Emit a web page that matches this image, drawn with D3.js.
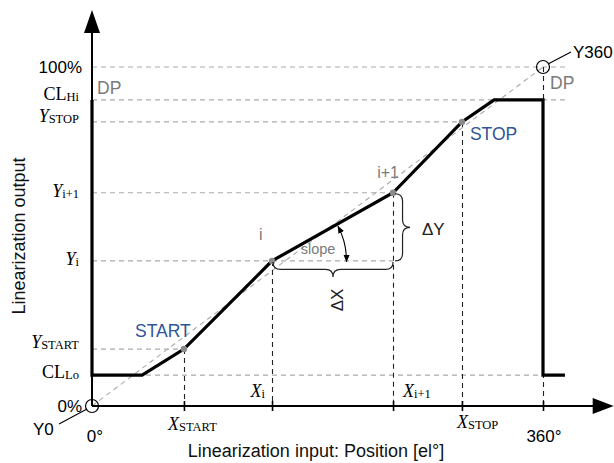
<!DOCTYPE html>
<html><head><meta charset="utf-8">
<script src="https://cdn.jsdelivr.net/npm/d3@7"></script>
<style>
body{margin:0;background:#fff;}
svg{display:block;}
.sans{font-family:"Liberation Sans",Arial,sans-serif;}
.serif{font-family:"Liberation Serif","Times New Roman",serif;}
</style></head>
<body>
<svg id="chart" width="614" height="463"></svg>
<script>
// ---- data ----
const yTickValues = [100, 90.3, 83.8, 62.9, 42.8, 16.8, 9.1, 0];
const yTickMain   = ["100%", "CL", "Y", "Y", "Y", "Y", "CL", "0%"];
const yTickSub    = ["", "Hi", "STOP", "i+1", "i", "START", "Lo", ""];

const xTickValues = [0, 73.4, 143.7, 240.3, 295.3, 360];
const xTickMain   = ["0°", "X", "X", "X", "X", "360°"];
const xTickSub    = ["", "START", "i", "i+1", "STOP", ""];

const curveX = [0, 0, 40, 73.4, 143.7, 240.3, 295.3, 321, 360, 360, 377.5];
const curveY = [90.3, 9.1, 9.1, 16.8, 42.8, 62.9, 83.8, 90.3, 90.3, 9.1, 9.1];

const pointX = [73.4, 143.7, 240.3, 295.3];
const pointY = [16.8, 42.8, 62.9, 83.8];
const pointLabel = ["START", "i", "i+1", "STOP"];

const xTitle = "Linearization input: Position [el°]";
const yTitle = "Linearization output";

// ---- scales ----
const x = d3.scaleLinear().domain([0, 360]).range([92, 543]);
const y = d3.scaleLinear().domain([0, 100]).range([406, 67]);
const xMax = 416.4, yMax = 116.8;

const svg = d3.select("#chart");
const GRAY = "#ababab", DKDASH = "#222", BLUE = "#2f5597", LGRAY = "#7a7a7a";

// markers
const defs = svg.append("defs");
defs.append("marker").attr("id","arr").attr("viewBox","0 0 10 10").attr("refX",9).attr("refY",5)
  .attr("markerWidth",7).attr("markerHeight",7).attr("orient","auto-start-reverse")
  .append("path").attr("d","M0,1 L10,5 L0,9 Z").attr("fill","#000");

// ---- horizontal gray dashed guide lines ----
const hEnds = [380.5, 380.5, pointX[3], pointX[2], pointX[2], pointX[0], 360, 0];
yTickValues.forEach((v,i)=>{
  if (v === 0) return;
  svg.append("line").attr("x1",x(0)).attr("x2",x(hEnds[i])).attr("y1",y(v)).attr("y2",y(v))
    .attr("stroke",GRAY).attr("stroke-width",1.2).attr("stroke-dasharray","5,4");
});
// diagonal
svg.append("line").attr("x1",x(0)).attr("y1",y(0)).attr("x2",x(360)).attr("y2",y(100))
  .attr("stroke",GRAY).attr("stroke-width",1.1).attr("stroke-dasharray","5,4");

// ---- vertical dark dashed lines ----
const vTops = [16.8, 42.8, 62.9, 83.8, 100];
xTickValues.slice(1).forEach((v,i)=>{
  const xx = Math.round(x(v)) + 0.5;
  svg.append("line").attr("x1",xx).attr("x2",xx).attr("y1",y(vTops[i])).attr("y2",y(0))
    .attr("stroke",DKDASH).attr("stroke-width",1.1).attr("stroke-dasharray","5,4");
});

// ---- axes ----
svg.append("line").attr("x1",x(0)).attr("x2",x(xMax)-20).attr("y1",y(0)).attr("y2",y(0))
  .attr("stroke","#000").attr("stroke-width",2);
svg.append("path").attr("d",`M${x(xMax)},${y(0)} L${x(xMax)-21},${y(0)-8} L${x(xMax)-21},${y(0)+8} Z`).attr("fill","#000");
svg.append("line").attr("x1",x(0)).attr("x2",x(0)).attr("y1",y(0)).attr("y2",y(yMax)+20)
  .attr("stroke","#000").attr("stroke-width",2);
svg.append("path").attr("d",`M${x(0)},${y(yMax)} L${x(0)-8},${y(yMax)+23} L${x(0)+8},${y(yMax)+23} Z`).attr("fill","#000");

const xAxis = d3.axisBottom(x).tickValues(xTickValues.slice(1)).tickFormat("").tickSize(10);
svg.append("g").attr("transform",`translate(0,${y(0)-5})`).call(xAxis)
  .call(g=>g.select(".domain").remove())
  .call(g=>g.selectAll(".tick line").attr("stroke","#000").attr("stroke-width",1.6));

// ---- curve ----
const line = d3.line().x((d,i)=>x(curveX[i])).y((d,i)=>y(curveY[i]));
svg.append("path").datum(curveX).attr("d",line).attr("fill","none")
  .attr("stroke","#000").attr("stroke-width",3.2).attr("stroke-linejoin","miter");

// points
svg.selectAll(".pt").data(pointX).enter().append("circle")
  .attr("cx",(d)=>x(d)).attr("cy",(d,i)=>y(pointY[i])).attr("r",3.2).attr("fill","#8a8a8a");

// hollow circles
[[0,0],[360,100]].forEach(p=>{
  svg.append("circle").attr("cx",x(p[0])).attr("cy",y(p[1])).attr("r",6.5)
    .attr("fill","none").attr("stroke","#000").attr("stroke-width",1.2);
});
svg.append("line").attr("x1",59).attr("y1",424).attr("x2",x(0)-5).attr("y2",y(0)+3).attr("stroke","#000").attr("stroke-width",1.1);
svg.append("line").attr("x1",x(360)+5).attr("y1",y(100)-3).attr("x2",571).attr("y2",52).attr("stroke","#000").attr("stroke-width",1.1);
svg.append("text").attr("class","sans").attr("x",33).attr("y",435).attr("font-size",17).text("Y0");
svg.append("text").attr("class","sans").attr("x",573).attr("y",58).attr("font-size",17).text("Y360");

// ---- y tick labels ----
const yBase = [6, 0, 0, 4, 4, -1, 3, 6];
yTickValues.forEach((v,i)=>{
  const isSans = yTickSub[i] === "";
  const t = svg.append("text").attr("class", isSans ? "sans" : "serif")
    .attr("x", isSans ? 82 : 79).attr("y", y(v) + yBase[i])
    .attr("text-anchor","end").attr("font-size", 17);
  t.append("tspan").attr("font-style", yTickMain[i]==="Y" ? "italic" : "normal").attr("font-size", isSans?17:18).text(yTickMain[i]);
  if (!isSans) t.append("tspan").attr("font-size",12.5).attr("dy",1).text(yTickSub[i]);
});

// ---- x tick labels ----
const xLab = [
  {dx:3, base:442, anchor:"middle"},
  {dx:-16, base:430, anchor:"start"},
  {dx:-7, base:397, anchor:"end"},
  {dx:10, base:397, anchor:"start"},
  {dx:-5, base:428, anchor:"start"},
  {dx:1, base:442, anchor:"middle"}
];
xTickValues.forEach((v,i)=>{
  const isSans = xTickSub[i] === "";
  const t = svg.append("text").attr("class", isSans ? "sans" : "serif")
    .attr("x", x(v) + xLab[i].dx).attr("y", xLab[i].base)
    .attr("text-anchor", xLab[i].anchor).attr("font-size", 17);
  t.append("tspan").attr("font-style", isSans ? "normal" : "italic").attr("font-size", isSans?17:18).text(xTickMain[i]);
  if (!isSans) t.append("tspan").attr("font-size",12.5).attr("dy",1).text(xTickSub[i]);
});

// ---- point labels ----
svg.append("text").attr("class","sans").attr("x",x(pointX[0])-49).attr("y",y(pointY[0])-12)
  .attr("font-size",17.5).attr("fill",BLUE).text(pointLabel[0]);
svg.append("text").attr("class","sans").attr("x",x(pointX[3])+8).attr("y",y(pointY[3])+18)
  .attr("font-size",17.5).attr("fill",BLUE).text(pointLabel[3]);
svg.append("text").attr("class","sans").attr("x",x(pointX[1])-13).attr("y",y(pointY[1])-21)
  .attr("font-size",16).attr("fill",LGRAY).text(pointLabel[1]);
svg.append("text").attr("class","sans").attr("x",x(pointX[2])-5).attr("y",y(pointY[2])-15)
  .attr("text-anchor","middle").attr("font-size",16).attr("fill",LGRAY).text(pointLabel[2]);

// DP labels
svg.append("text").attr("class","sans").attr("x",97).attr("y",94).attr("font-size",17.5).attr("fill",LGRAY).text("DP");
svg.append("text").attr("class","sans").attr("x",550).attr("y",89).attr("font-size",17.5).attr("fill",LGRAY).text("DP");

// ---- braces ----
function hBrace(x1, x2, yy, q){
  const xm=(x1+x2)/2;
  return `M${x1},${yy} Q${x1},${yy+q} ${x1+q},${yy+q} L${xm-q},${yy+q} Q${xm},${yy+q} ${xm},${yy+2*q} Q${xm},${yy+q} ${xm+q},${yy+q} L${x2-q},${yy+q} Q${x2},${yy+q} ${x2},${yy}`;
}
function vBrace(y1, y2, xx, q){
  const ym=(y1+y2)/2;
  return `M${xx},${y1} Q${xx+q},${y1} ${xx+q},${y1+q} L${xx+q},${ym-q} Q${xx+q},${ym} ${xx+2*q},${ym} Q${xx+q},${ym} ${xx+q},${ym+q} L${xx+q},${y2-q} Q${xx+q},${y2} ${xx},${y2}`;
}
const xi = x(pointX[1]), yi = y(pointY[1]), xi1 = x(pointX[2]), yi1 = y(pointY[2]);
svg.append("path").attr("d",hBrace(xi+1, xi1, yi+1, 7.5)).attr("fill","none").attr("stroke","#222").attr("stroke-width",1.2);
svg.append("path").attr("d",vBrace(yi1+1, yi, xi1+2, 7.5)).attr("fill","none").attr("stroke","#222").attr("stroke-width",1.2);
svg.append("text").attr("class","sans").attr("x",422).attr("y",235).attr("font-size",17).attr("fill","#222").text("ΔY");
svg.append("text").attr("class","sans").attr("transform",`translate(343,${300}) rotate(-90)`)
  .attr("text-anchor","middle").attr("font-size",17).attr("fill","#222").text("ΔX");

// slope arc
const ang = Math.atan2(yi1-yi, xi1-xi);
const R = 74.5;
const a0 = ang + 0.03;
const sx = xi + R*Math.cos(a0), sy = yi + R*Math.sin(a0);
const ex = xi + R*Math.cos(0.01), ey = yi + R*Math.sin(0.01);
svg.append("path").attr("d",`M${sx},${sy} A${R},${R} 0 0 1 ${ex},${ey}`)
  .attr("fill","none").attr("stroke","#000").attr("stroke-width",1.1)
  .attr("marker-start","url(#arr)").attr("marker-end","url(#arr)");
svg.append("text").attr("class","sans").attr("x",318).attr("y",254).attr("text-anchor","middle")
  .attr("font-size",14.5).attr("fill",LGRAY).text("slope");

// ---- axis titles ----
svg.append("text").attr("class","sans").attr("x",316).attr("y",457).attr("text-anchor","middle")
  .attr("font-size",18).attr("fill","#111").text(xTitle);
svg.append("text").attr("class","sans").attr("transform","translate(25,236) rotate(-90)")
  .attr("text-anchor","middle").attr("font-size",18).attr("fill","#111").text(yTitle);
</script>
</body></html>
